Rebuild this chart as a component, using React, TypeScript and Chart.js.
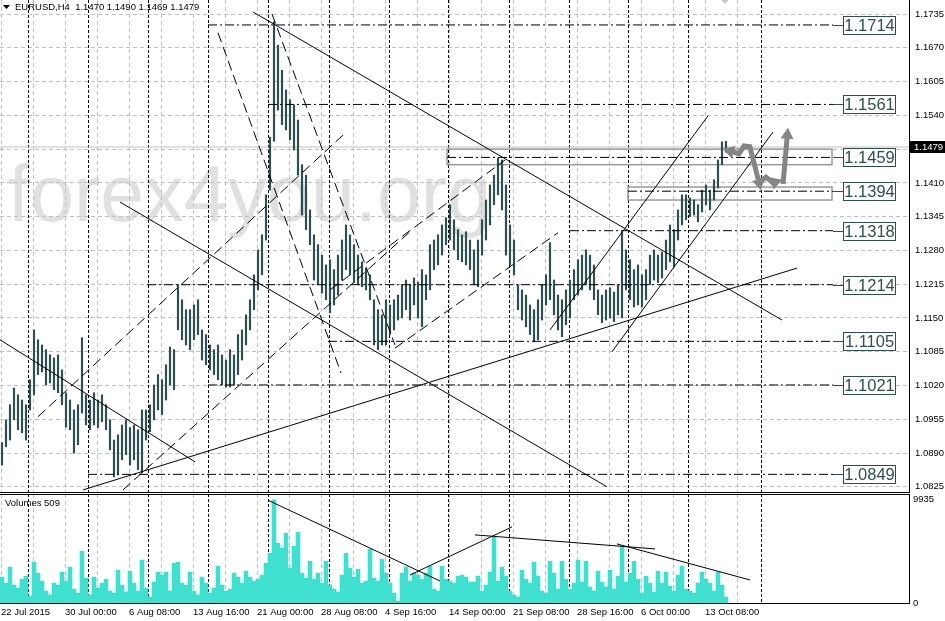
import React, { useEffect, useRef } from "react";
import { Chart, registerables } from "chart.js";

Chart.register(...registerables);

const TITLE = "EURUSD,H4  1.1470 1.1490 1.1469 1.1479";
const WATERMARK = "forex4you.org";
const VOLUME_TITLE = "Volumes 509";
const CURRENT_PRICE = 1.1479;
const VOLUME_MAX_LABEL = 9935;

// one entry per pair of H4 bars (left to right)
const highs: number[] = [
  1.0910, 1.0954, 1.0983, 1.1015, 1.1002, 1.0992, 1.0983, 1.1031, 1.1127, 1.1108,
  1.1098, 1.1089, 1.1079, 1.1073, 1.1079, 1.1050, 1.1006, 1.0992, 1.0973, 1.0983,
  1.1112, 1.1002, 1.0992, 1.1006, 1.0992, 1.1002, 1.0983, 1.0954, 1.0915, 1.0925,
  1.0944, 1.0954, 1.0939, 1.0944, 1.0935, 1.0973, 1.0973, 1.0983, 1.1021, 1.1041,
  1.1031, 1.1060, 1.1094, 1.1089, 1.1214, 1.1185, 1.1166, 1.1166, 1.1175, 1.1185,
  1.1127, 1.1118, 1.1098, 1.1089, 1.1098, 1.1079, 1.1069, 1.1089, 1.1079, 1.1118,
  1.1127, 1.1156, 1.1185, 1.1233, 1.1281, 1.1310, 1.1387, 1.1498, 1.1720, 1.1675,
  1.1627, 1.1589, 1.1570, 1.1560, 1.1531, 1.1445, 1.1425, 1.1358, 1.1310, 1.1291,
  1.1271, 1.1252, 1.1262, 1.1243, 1.1271, 1.1300, 1.1329, 1.1310, 1.1291, 1.1271,
  1.1258, 1.1246, 1.1233, 1.1185, 1.1166, 1.1156, 1.1185, 1.1175, 1.1185, 1.1194,
  1.1214, 1.1223, 1.1214, 1.1227, 1.1219, 1.1243, 1.1233, 1.1291, 1.1300, 1.1310,
  1.1329, 1.1343, 1.1368, 1.1339, 1.1320, 1.1310, 1.1316, 1.1300, 1.1281, 1.1300,
  1.1339, 1.1377, 1.1406, 1.1425, 1.1458, 1.1454, 1.1406, 1.1329, 1.1300, 1.1214,
  1.1204, 1.1194, 1.1175, 1.1166, 1.1185, 1.1214, 1.1233, 1.1295, 1.1223, 1.1194,
  1.1185, 1.1204, 1.1223, 1.1243, 1.1262, 1.1271, 1.1281, 1.1271, 1.1252, 1.1204,
  1.1194, 1.1204, 1.1208, 1.1200, 1.1214, 1.1316, 1.1281, 1.1262, 1.1243, 1.1252,
  1.1233, 1.1243, 1.1271, 1.1281, 1.1271, 1.1277, 1.1300, 1.1329, 1.1320, 1.1358,
  1.1387, 1.1387, 1.1381, 1.1377, 1.1368, 1.1396, 1.1406, 1.1396, 1.1416, 1.1454,
  1.1489, 1.1490,
];

const lows: number[] = [
  1.0867, 1.0902, 1.0915, 1.0954, 1.0935, 1.0929, 1.0915, 1.0973, 1.1002, 1.1041,
  1.1046, 1.1021, 1.1025, 1.1012, 1.1006, 1.0983, 1.0940, 1.0935, 1.0890, 1.0906,
  1.0967, 1.0944, 1.0935, 1.0944, 1.0939, 1.0950, 1.0935, 1.0896, 1.0844, 1.0848,
  1.0877, 1.0887, 1.0867, 1.0877, 1.0858, 1.0852, 1.0915, 1.0931, 1.0954, 1.0973,
  1.0964, 1.0992, 1.1021, 1.1012, 1.1127, 1.1108, 1.1098, 1.1089, 1.1108, 1.1118,
  1.1069, 1.1060, 1.1050, 1.1041, 1.1031, 1.1021, 1.1017, 1.1017, 1.1021, 1.1041,
  1.1069, 1.1098, 1.1127, 1.1166, 1.1204, 1.1233, 1.1300, 1.1396, 1.1490, 1.1550,
  1.1522, 1.1512, 1.1493, 1.1473, 1.1425, 1.1348, 1.1320, 1.1291, 1.1223, 1.1214,
  1.1198, 1.1185, 1.1160, 1.1175, 1.1194, 1.1223, 1.1243, 1.1233, 1.1218, 1.1214,
  1.1210, 1.1204, 1.1185, 1.1098, 1.1089, 1.1098, 1.1098, 1.1118, 1.1127, 1.1146,
  1.1150, 1.1166, 1.1146, 1.1175, 1.1150, 1.1133, 1.1185, 1.1204, 1.1243, 1.1252,
  1.1271, 1.1291, 1.1300, 1.1281, 1.1262, 1.1258, 1.1252, 1.1243, 1.1214, 1.1210,
  1.1271, 1.1300, 1.1329, 1.1368, 1.1387, 1.1358, 1.1271, 1.1252, 1.1233, 1.1166,
  1.1146, 1.1133, 1.1118, 1.1104, 1.1108, 1.1146, 1.1175, 1.1185, 1.1156, 1.1127,
  1.1114, 1.1137, 1.1150, 1.1185, 1.1194, 1.1204, 1.1214, 1.1204, 1.1185, 1.1156,
  1.1141, 1.1146, 1.1150, 1.1143, 1.1156, 1.1150, 1.1204, 1.1185, 1.1171, 1.1175,
  1.1171, 1.1185, 1.1214, 1.1223, 1.1218, 1.1227, 1.1243, 1.1258, 1.1248, 1.1300,
  1.1329, 1.1339, 1.1345, 1.1348, 1.1335, 1.1354, 1.1368, 1.1358, 1.1377, 1.1400,
  1.1445, 1.1469,
];

const volumes: number[] = [
  2500, 1920, 3460, 1730, 1440, 2300, 2590, 670, 3940, 2880,
  2110, 1150, 770, 1920, 1730, 2980, 2110, 3460, 1340, 960,
  4990, 2400, 770, 2500, 1440, 1920, 2300, 1150, 960, 3170,
  1730, 1060, 3070, 1920, 1150, 4130, 1440, 580, 2020, 2980,
  2690, 2980, 1150, 3840, 3940, 1920, 1730, 2980, 1150, 770,
  2500, 1920, 960, 1440, 3550, 1730, 1150, 1340, 2880, 2500,
  1920, 3070, 2500, 2110, 2300, 2690, 3840, 4800, 9935, 5760,
  5280, 6720, 3360, 5470, 6820, 2880, 2400, 4030, 2300, 2880,
  1920, 4030, 1730, 1340, 1060, 2690, 4800, 3360, 2500, 3260,
  1920, 2110, 5180, 2400, 2110, 4220, 2880, 1920, 960, 190,
  2880, 3460, 2110, 2880, 2690, 2300, 2880, 3550, 1340, 1150,
  3550, 2300, 2110, 1920, 2590, 2690, 2500, 2020, 2020, 2590,
  1150, 1730, 2980, 6430, 2110, 3460, 2590, 1150, 770, 580,
  3170, 2300, 1920, 3940, 2590, 1150, 960, 4030, 2880, 1340,
  4030, 2300, 1340, 1920, 4130, 2020, 4030, 1540, 1150, 3070,
  2020, 1540, 3170, 1340, 2590, 5380, 2020, 2880, 4030, 2300,
  960, 2590, 1920, 1060, 3070, 1920, 2980, 1630, 1150, 2690,
  3550, 1340, 1150, 960, 1920, 2980, 2300, 1920, 1150, 2980,
  1730, 580,
];

const priceTicks: number[] = [
  1.1735, 1.167, 1.1605, 1.154, 1.1475, 1.141, 1.1345, 1.128,
  1.1215, 1.115, 1.1085, 1.102, 1.0955, 1.089, 1.0825,
];
const hiddenPriceTick = 1.1475;

const dateLabels: string[] = [
  "22 Jul 2015", "30 Jul 00:00", "6 Aug 08:00", "13 Aug 16:00", "21 Aug 00:00",
  "28 Aug 08:00", "4 Sep 16:00", "14 Sep 00:00", "21 Sep 08:00", "28 Sep 16:00",
  "6 Oct 00:00", "13 Oct 08:00",
];
const dateLabelBars: number[] = [0.5, 32.5, 64.5, 96.5, 128.5, 160.5, 192.5, 224.5, 256.5, 288.5, 320.5, 352.5];
const weekSeparators: number[] = [14, 44, 74, 104, 134, 164.5, 194.5, 224, 254.5, 284.5, 314, 344, 380.5];

const levels: number[] = [1.1714, 1.1561, 1.1459, 1.1394, 1.1318, 1.1214, 1.1105, 1.1021, 1.0849];
const levelStarts: number[] = [104, 134, 223.5, 314, 285, 73.5, 164, 104, 44];
const levelEnd = 416.5;

const zoneFrom: number[] = [223.5, 314];
const zoneTo: number[] = [416, 416];
const zoneTop: number[] = [1.1475, 1.1402];
const zoneBottom: number[] = [1.1445, 1.1377];

// [x1, price1, x2, price2]
const solidLines: number[][] = [
  [0, 1.1108, 97.5, 1.0873],
  [60, 1.1373, 303.5, 1.0825],
  [41.5, 1.0819, 398.5, 1.1246],
  [126.5, 1.1739, 391, 1.1146],
  [275, 1.1127, 354, 1.1539],
  [306, 1.1085, 386.5, 1.1508],
];
const dashedLines: number[][] = [
  [109, 1.1699, 170.5, 1.1044],
  [136, 1.1735, 197.5, 1.1098],
  [19, 1.096, 171.5, 1.1502],
  [61.5, 1.0819, 205, 1.1316],
  [165, 1.1204, 252.5, 1.1454],
  [197.5, 1.1092, 279, 1.1314],
];
const volumeLines: number[][] = [
  [134, 9900, 220, 2120],
  [205, 2700, 256, 7330],
  [237.5, 6560, 327.5, 5210],
  [308.5, 5690, 375, 2220],
];

const forecastArrows: number[][][] = [
  [[376, 1.1479], [372, 1.1481], [369.5, 1.1466], [361.5, 1.1475]],
  [[375, 1.1479], [380.5, 1.1396]],
  [[378.5, 1.1408], [383, 1.1421], [386.5, 1.141], [391, 1.1416]],
  [[391.5, 1.1408], [394, 1.1516]],
];
// partially visible arrow tip at the top edge: [x, price]
const topArrowTip: number[] = [362.5, 1.1755];

const FONT = '"Liberation Sans", Arial, sans-serif';
const BAR_COLOR = "#2f4f4f";
const VOL_COLOR = "#40e0d0";
const GRID_COLOR = "#c0c0c0";
const ARROW_COLOR = "#858585";
const X_MAX = 454.5;

function drawSeparators(chart: any) {
  const { ctx, chartArea, scales } = chart;
  ctx.save();
  ctx.strokeStyle = "#000";
  ctx.lineWidth = 1;
  ctx.setLineDash([3, 2]);
  weekSeparators.forEach((b) => {
    const x = Math.round(scales.x.getPixelForValue(b)) + 0.5;
    ctx.beginPath();
    ctx.moveTo(x, chartArea.top);
    ctx.lineTo(x, chartArea.bottom);
    ctx.stroke();
  });
  ctx.restore();
}

function drawArrow(ctx: CanvasRenderingContext2D, pts: { x: number; y: number }[]) {
  const n = pts.length;
  const P = pts[n - 1];
  const Q = pts[n - 2];
  const dx = P.x - Q.x;
  const dy = P.y - Q.y;
  const len = Math.hypot(dx, dy) || 1;
  const ux = dx / len;
  const uy = dy / len;
  const head = 11;
  const half = 6.5;
  const bx = P.x - ux * head;
  const by = P.y - uy * head;
  ctx.save();
  ctx.strokeStyle = ARROW_COLOR;
  ctx.fillStyle = ARROW_COLOR;
  ctx.lineWidth = 5;
  ctx.lineJoin = "miter";
  ctx.beginPath();
  ctx.moveTo(pts[0].x, pts[0].y);
  for (let i = 1; i < n - 1; i++) ctx.lineTo(pts[i].x, pts[i].y);
  ctx.lineTo(bx + ux * 2, by + uy * 2);
  ctx.stroke();
  ctx.beginPath();
  ctx.moveTo(P.x, P.y);
  ctx.lineTo(bx - uy * half, by + ux * half);
  ctx.lineTo(bx + uy * half, by - ux * half);
  ctx.closePath();
  ctx.fill();
  ctx.restore();
}

const mainDecor = {
  id: "mainDecor",
  beforeDraw(chart: any) {
    const { ctx } = chart;
    ctx.save();
    ctx.fillStyle = "#ffffff";
    ctx.fillRect(0, 0, chart.width, chart.height);
    ctx.fillStyle = "#e0e0e0";
    ctx.font = `79px ${FONT}`;
    ctx.textBaseline = "alphabetic";
    ctx.textAlign = "left";
    ctx.fillText(WATERMARK, 8, 221);
    ctx.restore();
  },
  beforeDatasetsDraw(chart: any) {
    const { ctx, scales } = chart;
    drawSeparators(chart);
    ctx.save();
    ctx.strokeStyle = "#9a9a9a";
    ctx.lineWidth = 1.5;
    for (let i = 0; i < zoneFrom.length; i++) {
      const x1 = scales.x.getPixelForValue(zoneFrom[i]);
      const x2 = scales.x.getPixelForValue(zoneTo[i]);
      const y1 = scales.y.getPixelForValue(zoneTop[i]);
      const y2 = scales.y.getPixelForValue(zoneBottom[i]);
      ctx.strokeRect(x1, y1, x2 - x1, y2 - y1);
    }
    ctx.restore();
  },
  afterDatasetsDraw(chart: any) {
    const { ctx, scales } = chart;
    forecastArrows.forEach((arr) => {
      const pts = arr.map((p) => ({ x: scales.x.getPixelForValue(p[0]), y: scales.y.getPixelForValue(p[1]) }));
      drawArrow(ctx, pts);
    });
    // faint arrow tip at top edge
    const tx = scales.x.getPixelForValue(topArrowTip[0]);
    const ty = scales.y.getPixelForValue(topArrowTip[1]);
    ctx.save();
    ctx.fillStyle = "#c4c4c4";
    ctx.beginPath();
    ctx.moveTo(tx, ty);
    ctx.lineTo(tx - 5, ty - 5);
    ctx.lineTo(tx + 5, ty - 5);
    ctx.closePath();
    ctx.fill();
    ctx.restore();

    const xEnd = scales.x.getPixelForValue(levelEnd);
    ctx.save();
    levels.forEach((lv) => {
      const y = Math.round(scales.y.getPixelForValue(lv)) + 0.5;
      ctx.strokeStyle = "#2f4f4f";
      ctx.lineWidth = 1;
      ctx.setLineDash([]);
      ctx.beginPath();
      ctx.moveTo(xEnd, y);
      ctx.lineTo(xEnd + 10, y);
      ctx.stroke();
      const bx = Math.round(xEnd + 10) + 0.5;
      ctx.fillStyle = "#ffffff";
      ctx.fillRect(bx, y - 9, 52, 18);
      ctx.strokeRect(bx, y - 9, 52, 18);
      ctx.fillStyle = "#2f4f4f";
      ctx.font = `16.5px ${FONT}`;
      ctx.textAlign = "center";
      ctx.textBaseline = "middle";
      ctx.fillText(lv.toFixed(4), bx + 26, y + 1);
    });
    ctx.restore();
  },
  afterDraw(chart: any) {
    const { ctx, scales, chartArea } = chart;
    ctx.save();
    const y = scales.y.getPixelForValue(CURRENT_PRICE);
    ctx.fillStyle = "#000";
    ctx.fillRect(chartArea.right + 1, y - 6, chart.width - chartArea.right - 1, 12);
    ctx.fillStyle = "#fff";
    ctx.font = `9.5px ${FONT}`;
    ctx.textBaseline = "middle";
    ctx.textAlign = "left";
    ctx.fillText(CURRENT_PRICE.toFixed(4), chartArea.right + 5, y + 0.5);
    ctx.fillStyle = "#000";
    ctx.beginPath();
    ctx.moveTo(3, 5);
    ctx.lineTo(10, 5);
    ctx.lineTo(6.5, 9);
    ctx.closePath();
    ctx.fill();
    ctx.font = `9.5px ${FONT}`;
    ctx.fillText(TITLE, 15, 7.5);
    ctx.restore();
  },
};

const volDecor = {
  id: "volDecor",
  beforeDraw(chart: any) {
    const { ctx } = chart;
    ctx.save();
    ctx.fillStyle = "#ffffff";
    ctx.fillRect(0, 0, chart.width, chart.height);
    ctx.restore();
  },
  beforeDatasetsDraw(chart: any) {
    drawSeparators(chart);
  },
  afterDraw(chart: any) {
    const { ctx, chartArea } = chart;
    ctx.save();
    ctx.strokeStyle = "#000";
    ctx.lineWidth = 1;
    ctx.beginPath();
    ctx.moveTo(0, chartArea.top + 0.5);
    ctx.lineTo(chartArea.right, chartArea.top + 0.5);
    ctx.stroke();
    ctx.fillStyle = "#000";
    ctx.font = `9.5px ${FONT}`;
    ctx.textBaseline = "middle";
    ctx.textAlign = "left";
    ctx.fillText(VOLUME_TITLE, 5, chartArea.top + 9);
    ctx.restore();
  },
};

function segDataset(seg: number[], dash: number[], width = 1) {
  return {
    type: "line" as const,
    data: [
      { x: seg[0], y: seg[1] },
      { x: seg[2], y: seg[3] },
    ],
    borderColor: "#000",
    borderWidth: width,
    borderDash: dash,
    pointRadius: 0,
    fill: false,
    tension: 0,
    order: 0,
  };
}

const gridTicks: number[] = dateLabelBars.flatMap((b) => [b, b + 16]);

export default function App() {
  const mainRef = useRef<HTMLCanvasElement>(null);
  const volRef = useRef<HTMLCanvasElement>(null);

  useEffect(() => {
    const xs = highs.map((_, i) => 2 * i + 1);

    const mainDatasets: any[] = [
      {
        type: "bar",
        data: xs.map((x, i) => ({ x, y: [lows[i], highs[i]] })),
        backgroundColor: BAR_COLOR,
        barThickness: 1.5,
        order: 10,
      },
      {
        type: "line",
        data: [
          { x: 0, y: CURRENT_PRICE },
          { x: X_MAX, y: CURRENT_PRICE },
        ],
        borderColor: GRID_COLOR,
        borderWidth: 1,
        pointRadius: 0,
        order: 20,
      },
      ...levels.map((lv, i) => segDataset([levelStarts[i], lv, levelEnd, lv], [9, 3, 2, 3])),
      ...solidLines.map((s) => segDataset(s, [])),
      ...dashedLines.map((s) => segDataset(s, [10, 5])),
    ];

    const main = new Chart(mainRef.current as HTMLCanvasElement, {
      type: "bar",
      data: { datasets: mainDatasets },
      plugins: [mainDecor],
      options: {
        animation: false,
        responsive: false,
        events: [],
        layout: { padding: 0 },
        plugins: { legend: { display: false }, tooltip: { enabled: false } },
        scales: {
          x: {
            type: "linear",
            min: 0,
            max: X_MAX,
            offset: false,
            position: "bottom",
            afterBuildTicks: (s: any) => {
              s.ticks = gridTicks.map((v) => ({ value: v }));
            },
            afterFit: (s: any) => {
              s.height = 1;
              s.paddingLeft = 0;
              s.paddingRight = 0;
            },
            ticks: { display: false },
            grid: { color: GRID_COLOR, drawTicks: false, offset: false },
            border: { display: true, color: "#000", dash: [4, 3] },
          },
          y: {
            type: "linear",
            position: "right",
            min: 1.0815,
            max: 1.1762,
            afterBuildTicks: (s: any) => {
              s.ticks = priceTicks.map((v) => ({ value: v }));
            },
            afterFit: (s: any) => {
              s.width = 36;
              s.paddingTop = 0;
              s.paddingBottom = 0;
            },
            ticks: {
              padding: 6,
              color: "#000",
              font: { family: FONT, size: 9.5 },
              callback: (v: any) => (Math.abs(Number(v) - hiddenPriceTick) < 1e-6 ? "" : Number(v).toFixed(4)),
            },
            grid: { color: GRID_COLOR, drawTicks: false },
            border: { display: true, color: "#000", dash: [4, 3] },
          },
        },
      } as any,
    });

    const volDatasets: any[] = [
      {
        type: "bar",
        data: xs.map((x, i) => ({ x, y: volumes[i] })),
        backgroundColor: VOL_COLOR,
        barThickness: 4,
        order: 10,
      },
      ...volumeLines.map((s) => segDataset(s, [])),
    ];

    const vol = new Chart(volRef.current as HTMLCanvasElement, {
      type: "bar",
      data: { datasets: volDatasets },
      plugins: [volDecor],
      options: {
        animation: false,
        responsive: false,
        events: [],
        layout: { padding: { top: 1, left: 0, right: 0, bottom: 0 } },
        plugins: { legend: { display: false }, tooltip: { enabled: false } },
        scales: {
          x: {
            type: "linear",
            min: 0,
            max: X_MAX,
            offset: false,
            position: "bottom",
            afterBuildTicks: (s: any) => {
              s.ticks = gridTicks.map((v) => ({ value: v }));
            },
            afterFit: (s: any) => {
              s.height = 18;
              s.paddingLeft = 0;
              s.paddingRight = 0;
            },
            ticks: {
              autoSkip: false,
              maxRotation: 0,
              minRotation: 0,
              align: "start",
              padding: 4,
              color: "#000",
              font: { family: FONT, size: 9.5 },
              callback: (v: any) => {
                const i = dateLabelBars.indexOf(Number(v));
                return i >= 0 ? dateLabels[i] : "";
              },
            },
            grid: { color: GRID_COLOR, drawTicks: false, offset: false },
            border: { display: true, color: "#000", dash: [4, 3] },
          },
          y: {
            type: "linear",
            position: "right",
            min: 0,
            max: 10500,
            afterBuildTicks: (s: any) => {
              s.ticks = [{ value: 0 }, { value: VOLUME_MAX_LABEL }];
            },
            afterFit: (s: any) => {
              s.width = 36;
              s.paddingTop = 0;
              s.paddingBottom = 0;
            },
            ticks: {
              padding: 4,
              color: "#000",
              font: { family: FONT, size: 9.5 },
              callback: (v: any) => String(v),
            },
            grid: { display: false, drawTicks: false },
            border: { display: true, color: "#000" },
          },
        },
      } as any,
    });

    return () => {
      main.destroy();
      vol.destroy();
    };
  }, []);

  return (
    <div style={{ position: "fixed", left: 0, top: 0, width: 945, height: 621, background: "#fff", overflow: "hidden" }}>
      <canvas ref={mainRef} width={945} height={493} style={{ position: "absolute", left: 0, top: 0, width: 945, height: 493 }} />
      <canvas ref={volRef} width={945} height={128} style={{ position: "absolute", left: 0, top: 493, width: 945, height: 128 }} />
    </div>
  );
}
